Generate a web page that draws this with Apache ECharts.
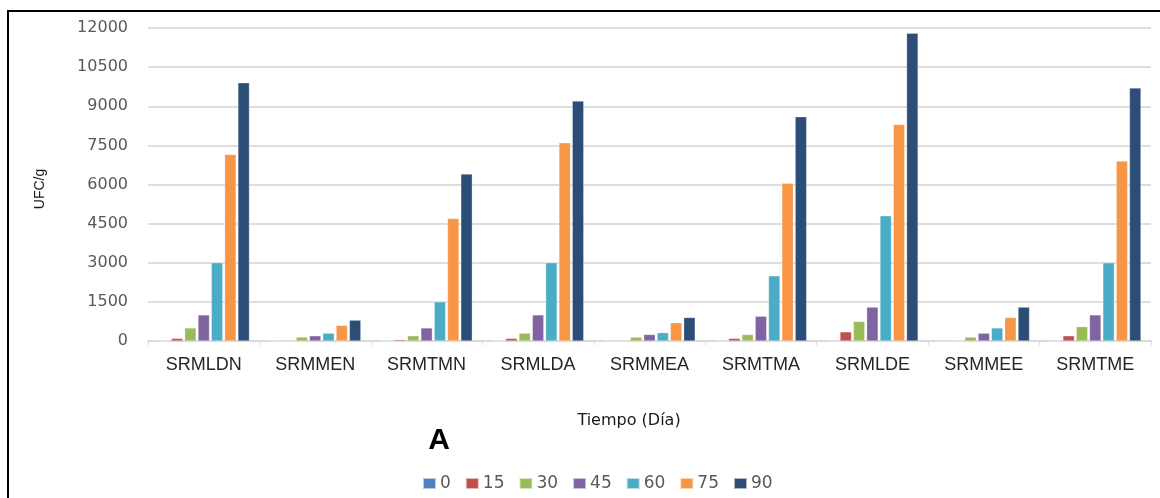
<!DOCTYPE html>
<html>
<head>
<meta charset="utf-8">
<script src="https://cdn.jsdelivr.net/npm/echarts@6/dist/echarts.min.js"></script>
<style>
html,body{margin:0;padding:0;background:#fff;}
#chart{width:1160px;height:498px;}
</style>
</head>
<body>
<div id="chart"></div>
<script>
const categories = ['SRMLDN','SRMMEN','SRMTMN','SRMLDA','SRMMEA','SRMTMA','SRMLDE','SRMMEE','SRMTME'];
const seriesNames = ['0','15','30','45','60','75','90'];
const day0  = [0, 0, 0, 0, 0, 0, 0, 0, 0];
const day15 = [100, 0, 50, 100, 0, 100, 350, 0, 200];
const day30 = [500, 150, 200, 300, 150, 250, 750, 150, 550];
const day45 = [1000, 200, 500, 1000, 250, 950, 1300, 300, 1000];
const day60 = [3000, 300, 1500, 3000, 320, 2500, 4800, 500, 3000];
const day75 = [7150, 600, 4700, 7600, 700, 6050, 8300, 900, 6900];
const day90 = [9900, 800, 6400, 9200, 900, 8600, 11800, 1300, 9700];
const yTicks = [0, 1500, 3000, 4500, 6000, 7500, 9000, 10500, 12000];
const colors = ['#4F81BD','#C0504D','#9BBB59','#8064A2','#4BACC6','#F79646','#2C4D75'];
const allData = [day0, day15, day30, day45, day60, day75, day90];

const chart = echarts.init(document.getElementById('chart'), null, {renderer:'canvas'});
chart.setOption({
  animation: false,
  backgroundColor: '#ffffff',
  color: colors,
  grid: {left: 148, right: 9, top: 28, bottom: 157, containLabel: false},
  legend: {
    data: seriesNames,
    left: 417, top: 470,
    itemWidth: 13, itemHeight: 11, itemGap: 14,
    icon: 'rect',
    textStyle: {color: '#595959', fontSize: 17, fontFamily: 'DejaVu Sans', padding: [0,0,0,-1]}
  },
  xAxis: {
    type: 'category',
    data: categories,
    axisLine: {lineStyle: {color: '#d9d9d9', width: 1.5}},
    axisTick: {show: true, length: 4, lineStyle: {color: '#d9d9d9'}},
    axisLabel: {color: '#262626', fontSize: 18, fontFamily: 'Liberation Sans', margin: 15}
  },
  yAxis: {
    type: 'value',
    min: yTicks[0], max: yTicks[yTicks.length-1], interval: 1500,
    axisLine: {show: false},
    axisTick: {show: false},
    splitLine: {lineStyle: {color: '#dedede', width: 2}},
    axisLabel: {color: '#595959', fontSize: 16, fontFamily: 'DejaVu Sans', margin: 20,
      formatter: v => String(v)}
  },
  series: seriesNames.map((n, i) => ({
    name: n,
    type: 'bar',
    data: allData[i],
    barGap: '16%',
    barCategoryGap: '18%',
    itemStyle: {borderColor: 'rgba(255,255,255,0.6)', borderWidth: 0.5}
  })),
  graphic: [
    {type: 'line', shape: {x1: 7, y1: 11, x2: 1160, y2: 11}, style: {stroke: '#000', lineWidth: 2}},
    {type: 'line', shape: {x1: 8, y1: 10, x2: 8, y2: 498}, style: {stroke: '#000', lineWidth: 2}},
    {type: 'text', x: 629, y: 421, style: {text: 'Tiempo (Día)', fill: '#1a1a1a', font: '16px "DejaVu Sans"', textAlign: 'center', textVerticalAlign: 'middle'}},
    {type: 'text', x: 439, y: 441, style: {text: 'A', fill: '#000', font: 'bold 30px "Liberation Sans"', textAlign: 'center', textVerticalAlign: 'middle'}},
    {type: 'text', x: 40, y: 189, rotation: Math.PI/2, style: {text: 'UFC/g', fill: '#1a1a1a', font: '14px "Liberation Sans"', textAlign: 'center', textVerticalAlign: 'middle'}}
  ]
});
</script>
</body>
</html>
